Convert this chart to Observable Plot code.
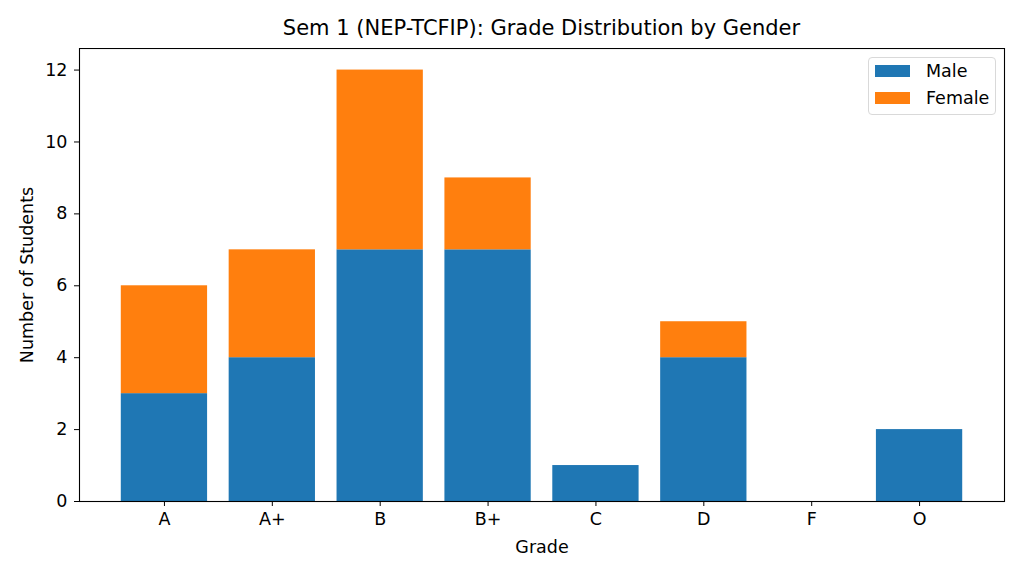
<!DOCTYPE html>
<html>
<head>
<meta charset="utf-8">
<script src="https://cdn.jsdelivr.net/npm/d3@7"></script>
<script src="https://cdn.jsdelivr.net/npm/@observablehq/plot@0.6"></script>
<style>
  body { margin: 0; background: white; font-family: "DejaVu Sans", sans-serif; }
  #wrap { position: relative; width: 1024px; height: 576px; }
  #title { position: absolute; left: 79px; width: 925px; top: 16px; text-align: center; font-size: 21px; line-height: 25px; color: #000; white-space: nowrap; }
  #chart { position: absolute; left: 0; top: 48px; }
  #legend { position: absolute; left: 868px; top: 57px; width: 126px; height: 56px; border: 1px solid #d9d9d9; border-radius: 4px; background: rgba(255,255,255,0.8); font-size: 17.5px; line-height: 20px; }
  .item { position: absolute; left: 6px; height: 12px; }
  .sw { position: absolute; left: 0; top: 0; width: 35px; height: 12px; }
  .lab { position: absolute; left: 51px; top: -4px; white-space: nowrap; color: #000; }
</style>
</head>
<body>
<div id="wrap">
  <div id="title">Sem 1 (NEP-TCFIP): Grade Distribution by Gender</div>
  <div id="chart"></div>
  <div id="legend">
    <div class="item" style="top:7px"><div class="sw" style="background:#1f77b4"></div><div class="lab">Male</div></div>
    <div class="item" style="top:34px"><div class="sw" style="background:#ff7f0e"></div><div class="lab">Female</div></div>
  </div>
</div>
<script>
const grades = ["A", "A+", "B", "B+", "C", "D", "F", "O"];
const male = [3, 4, 7, 7, 1, 4, 0, 2];
const female = [3, 3, 5, 2, 0, 1, 0, 0];
const genders = ["Male", "Female"];
const colors = ["#1f77b4", "#ff7f0e"];
const yTicks = [0, 2, 4, 6, 8, 10, 12];

const data = [];
grades.forEach((g, i) => data.push({grade: g, gender: "Male", count: male[i]}));
grades.forEach((g, i) => data.push({grade: g, gender: "Female", count: female[i]}));

const FS = 17.5;
const chart = Plot.plot({
  width: 1024,
  height: 528,
  marginLeft: 79,
  marginRight: 20,
  marginTop: 0,
  marginBottom: 75,
  style: { fontFamily: "DejaVu Sans, sans-serif", fontSize: FS + "px", color: "#000", background: "white" },
  x: { domain: grades, paddingInner: 0.2, paddingOuter: 0.1, insetLeft: 31, insetRight: 31, round: false, label: null },
  y: { domain: [0, 12.6], label: null },
  color: { domain: genders, range: colors },
  marks: [
    Plot.barY(data, { x: "grade", y: "count", fill: "gender" }),
    Plot.axisY({ ticks: yTicks, tickSize: 5, tickPadding: 7, fontSize: FS, label: null, stroke: "#000" }),
    Plot.axisX({ tickSize: 5, tickPadding: 6, fontSize: FS, label: null, stroke: "#000" }),
    Plot.frame({ stroke: "#000", strokeWidth: 1.1 }),
    Plot.text(["Number of Students"], { frameAnchor: "left", dx: -52, rotate: -90, textAnchor: "middle", lineAnchor: "middle", fontSize: FS, fill: "#000" }),
    Plot.text(["Grade"], { frameAnchor: "bottom", dy: 46, textAnchor: "middle", lineAnchor: "middle", fontSize: FS, fill: "#000" })
  ]
});
document.getElementById("chart").appendChild(chart);
</script>
</body>
</html>
